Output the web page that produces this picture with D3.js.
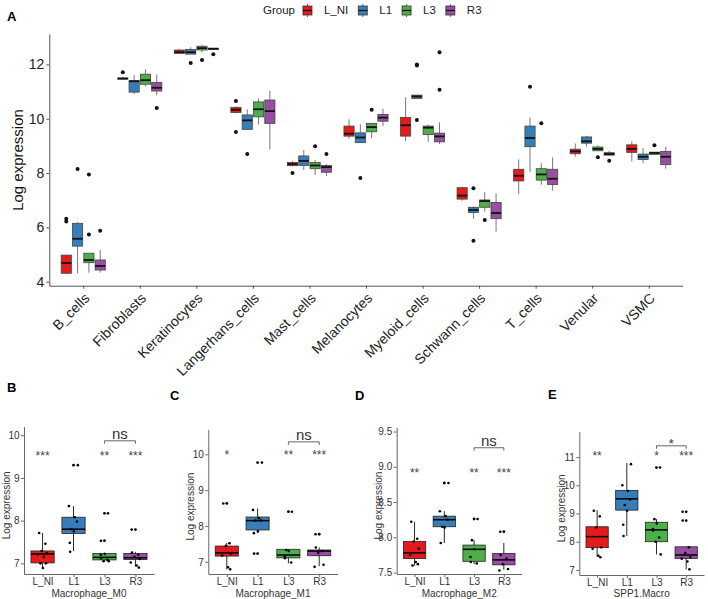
<!DOCTYPE html>
<html><head><meta charset="utf-8">
<script src="https://cdn.jsdelivr.net/npm/d3@7"></script>
<style>body{margin:0;background:#fff} svg{display:block} text{font-family:"Liberation Sans",Arial,sans-serif}</style>
</head><body><svg id="c" width="708" height="599"></svg>
<script>
// ---------------- DATA ----------------
const groups = ["L_NI", "L1", "L3", "R3"];
const cellTypes = ["B_cells","Fibroblasts","Keratinocytes","Langerhans_cells","Mast_cells","Melanocytes","Myeloid_cells","Schwann_cells","T_cells","Venular","VSMC"];
const ticksA = [4, 6, 8, 10, 12];
// [lower whisker, q1, median, q3, upper whisker] per cell type
const statsA_L_NI = [[4.31,4.31,4.69,4.98,4.98],[11.45,11.46,11.48,11.50,11.52],[12.40,12.41,12.45,12.53,12.57],[10.20,10.23,10.33,10.42,10.45],[8.25,8.27,8.33,8.39,8.45],[9.26,9.36,9.45,9.73,9.98],[9.18,9.36,9.76,10.05,10.79],[6.98,7.04,7.17,7.46,7.50],[7.22,7.71,7.90,8.14,8.50],[8.60,8.71,8.80,8.88,9.09],[8.43,8.76,8.89,9.04,9.17]];
const statsA_L1 = [[4.31,5.31,5.58,6.15,6.20],[10.91,10.98,11.38,11.40,11.61],[12.38,12.38,12.45,12.55,12.63],[9.61,9.61,9.94,10.14,10.35],[8.11,8.28,8.45,8.63,8.85],[9.12,9.12,9.31,9.48,9.80],[10.75,10.75,10.82,10.87,10.87],[6.32,6.55,6.64,6.74,6.76],[8.03,8.97,9.29,9.73,10.05],[8.97,9.10,9.17,9.33,9.37],[8.36,8.50,8.60,8.70,8.92]];
const statsA_L3 = [[4.33,4.70,4.80,5.05,5.05],[11.18,11.27,11.42,11.64,11.82],[12.44,12.53,12.60,12.67,12.71],[9.79,10.07,10.35,10.62,10.75],[7.93,8.16,8.28,8.39,8.48],[9.28,9.52,9.69,9.83,9.83],[9.15,9.42,9.67,9.73,9.78],[6.58,6.74,6.97,7.01,7.30],[7.57,7.74,7.95,8.16,8.36],[8.82,8.82,8.89,8.96,9.02],[8.69,8.69,8.74,8.77,8.77]];
const statsA_R3 = [[4.33,4.43,4.58,4.80,5.17],[10.87,11.02,11.14,11.34,11.63],[12.57,12.57,12.58,12.59,12.59],[8.87,9.83,10.28,10.69,11.03],[7.89,8.03,8.22,8.28,8.33],[9.73,9.91,10.04,10.16,10.37],[9.07,9.15,9.35,9.47,9.87],[5.85,6.32,6.53,6.92,7.25],[7.35,7.58,7.79,8.14,8.58],[8.66,8.66,8.70,8.75,8.82],[8.16,8.31,8.60,8.80,8.97]];
const outliersA_L_NI = [[6.32,6.22],[11.71],[],[10.65,9.51],[8.00],[],[],[],[],[],[]];
const outliersA_L1 = [[8.15],[],[12.05],[8.70],[],[7.82],[12.00,11.96,9.95],[7.44,5.51],[11.18],[],[]];
const outliersA_L3 = [[5.74,7.95],[],[12.16],[],[8.99],[10.33],[],[6.27],[9.83],[8.58],[9.02]];
const outliersA_R3 = [[5.88],[10.40],[12.37],[],[8.70],[],[12.45,11.07],[],[],[8.45],[]];

// Panel B: Macrophage_M0
const statsB = [[6.88,7.01,7.22,7.29,7.71],[7.29,7.70,7.80,8.08,8.34],[7.05,7.08,7.14,7.23,7.25],[6.92,7.09,7.13,7.23,7.27]];
const outliersB = [[],[9.30],[8.17,7.53],[7.79]];
const pointsB = [[7.71,7.46,7.29,7.24,7.20,7.15,7.00,7.00,6.89],[9.30,8.34,8.08,7.98,7.80,7.75,7.48,7.27],[8.17,7.53,7.22,7.20,7.12,7.08,7.05,7.05],[7.79,7.25,7.20,7.15,7.10,7.02,6.95,6.90]];
const sigB = ["***","","**","***"];
const ticksB = [7, 8, 9, 10];
// Panel C: Macrophage_M1
const statsC = [[6.79,7.16,7.25,7.44,7.53],[7.82,7.89,8.15,8.25,8.49],[6.96,7.11,7.19,7.35,7.35],[6.88,7.17,7.30,7.33,7.40]];
const outliersC = [[8.63],[9.77,7.23],[8.40],[7.77]];
const pointsC = [[8.63,7.52,7.45,7.22,7.18,6.85,6.79],[9.77,8.45,8.22,8.15,8.15,7.85,7.80,7.23],[8.40,7.33,7.30,7.15,7.10,6.98],[7.77,7.40,7.30,7.25,6.92,6.86]];
const sigC = ["*","","**","***"];
const ticksC = [7, 8, 9, 10];
// Panel D: Macrophage_M2
const statsD = [[7.60,7.70,7.78,7.94,8.22],[7.92,8.15,8.25,8.30,8.37],[7.62,7.66,7.83,7.89,7.96],[7.54,7.61,7.68,7.77,7.92]];
const outliersD = [[],[8.77],[8.26],[8.08]];
const pointsD = [[8.22,7.98,7.94,7.84,7.75,7.65,7.62,7.60],[8.77,8.37,8.30,8.25,8.15,8.14,7.92],[8.26,7.96,7.83,7.72,7.65,7.63],[8.08,7.75,7.70,7.62,7.55,7.53]];
const sigD = ["**","","**","***"];
const ticksD = [7.5, 8.0, 8.5, 9.0, 9.5];
// Panel E: SPP1.Macro
const statsE = [[7.47,7.79,8.18,8.53,9.12],[8.20,9.12,9.52,9.82,10.79],[7.55,8.00,8.42,8.69,8.80],[7.02,7.41,7.53,7.82,7.82]];
const outliersE = [[],[],[10.63],[9.06,8.75]];
const pointsE = [[9.10,8.90,8.50,7.80,7.75,7.50,7.45],[10.75,10.00,9.80,9.50,9.30,9.10,8.60,8.20],[10.63,8.80,8.65,8.45,8.40,8.15,8.00,7.55],[9.06,8.75,7.80,7.60,7.45,7.40,7.30,7.02]];
const sigE = ["**","","*","***"];
const ticksE = [7, 8, 9, 10, 11];

// ---------------- STYLE ----------------
const colors = ["#E41A1C", "#377EB8", "#4DAF4A", "#984EA3"];
const jitterPattern = [-0.55, 0.45, -0.15, 0.7, -0.75, 0.2, 0.55, -0.35, 0.05, -0.6];
const svg = d3.select("#c");
const font = '"Liberation Sans",Arial,sans-serif';

// ---------------- PANEL A ----------------
const statsA = [statsA_L_NI, statsA_L1, statsA_L3, statsA_R3];
const outliersA = [outliersA_L_NI, outliersA_L1, outliersA_L3, outliersA_R3];
const xA = d3.scalePoint().domain(cellTypes).range([49.3, 682.7]).padding(0.6);
const stepA = xA.step();
const yA = d3.scaleLinear().domain([3.853, 13.12]).range([285.7, 34]);
const gA = svg.append("g");

groups.forEach((grp, gi) => {
  const bw = 0.18 * stepA;
  cellTypes.forEach((ct, ci) => {
    const s = statsA[gi][ci];
    const cx = xA(ct) + (gi - 1.5) * 0.2 * stepA;
    const g = gA.append("g");
    g.append("line").attr("x1", cx).attr("x2", cx).attr("y1", yA(s[0])).attr("y2", yA(s[4]))
      .attr("stroke", "#555").attr("stroke-width", 0.8);
    g.append("rect").attr("x", cx - bw/2).attr("width", bw)
      .attr("y", yA(s[3])).attr("height", Math.max(1, yA(s[1]) - yA(s[3])))
      .attr("fill", colors[gi]).attr("stroke", "#444").attr("stroke-width", 0.8);
    g.append("line").attr("x1", cx - bw/2).attr("x2", cx + bw/2).attr("y1", yA(s[2])).attr("y2", yA(s[2]))
      .attr("stroke", "#111").attr("stroke-width", 1.8);
    outliersA[gi][ci].forEach(v => {
      g.append("circle").attr("cx", cx).attr("cy", yA(v)).attr("r", 2).attr("fill", "#111");
    });
  });
});

// axes A
const axAy = gA.append("g").attr("transform", "translate(49.3,0)")
  .call(d3.axisLeft(yA).tickValues(ticksA).tickSize(3).tickPadding(2).tickSizeOuter(0));
axAy.select(".domain").attr("stroke", "#555");
axAy.selectAll(".tick line").attr("stroke", "#555");
axAy.selectAll("text").attr("font-size", 14).attr("fill", "#222").attr("font-family", font);
const axAx = gA.append("g").attr("transform", "translate(0,285.7)")
  .call(d3.axisBottom(xA).tickSize(3).tickSizeOuter(0).tickFormat(""));
axAx.select(".domain").attr("stroke", "#555");
axAx.selectAll(".tick line").attr("stroke", "#555");
cellTypes.forEach(ct => {
  gA.append("text").attr("transform", `translate(${xA(ct)},292) rotate(-45)`)
    .attr("text-anchor", "end").attr("dy", "0.72em").attr("font-size", 14).attr("fill", "#222").text(ct);
});
gA.append("text").attr("transform", "translate(23,160) rotate(-90)").attr("text-anchor", "middle")
  .attr("font-size", 15).attr("fill", "#111").text("Log expression");
gA.append("text").attr("x", 7).attr("y", 21).attr("font-size", 13).attr("font-weight", "bold").text("A");

// legend
const leg = svg.append("g");
let lx = 263;
const gt = leg.append("text").attr("x", lx).attr("y", 14).attr("font-size", 11.5).attr("fill", "#222").text("Group");
lx += gt.node().getComputedTextLength() + 8;
groups.forEach((grp, gi) => {
  const kx = lx;
  leg.append("line").attr("x1", kx + 4.5).attr("x2", kx + 4.5).attr("y1", 4).attr("y2", 17).attr("stroke", "#444").attr("stroke-width", 0.8);
  leg.append("rect").attr("x", kx).attr("y", 6).attr("width", 9).attr("height", 9)
    .attr("fill", colors[gi]).attr("stroke", "#333").attr("stroke-width", 0.8);
  leg.append("line").attr("x1", kx).attr("x2", kx + 9).attr("y1", 10.5).attr("y2", 10.5).attr("stroke", "#111").attr("stroke-width", 1.2);
  const t = leg.append("text").attr("x", kx + 21).attr("y", 14).attr("font-size", 11.5).attr("fill", "#222").text(grp);
  lx = kx + 21 + t.node().getComputedTextLength() + 10;
});

// ---------------- LOWER PANELS ----------------
function drawPanel(cfg) {
  const g = svg.append("g");
  const x = d3.scalePoint().domain(groups).range([cfg.x0, cfg.x1]).padding(0.6);
  const step = x.step();
  const y = d3.scaleLinear().domain(cfg.yDomain).range([cfg.yBottom, cfg.yTop]);
  const bw = 0.75 * step;
  groups.forEach((grp, gi) => {
    const s = cfg.stats[gi];
    const cx = x(grp);
    g.append("line").attr("x1", cx).attr("x2", cx).attr("y1", y(s[0])).attr("y2", y(s[4]))
      .attr("stroke", "#111").attr("stroke-width", 0.9);
    g.append("rect").attr("x", cx - bw/2).attr("width", bw).attr("y", y(s[3])).attr("height", y(s[1]) - y(s[3]))
      .attr("fill", colors[gi]).attr("stroke", "#222").attr("stroke-width", 0.8);
    g.append("line").attr("x1", cx - bw/2).attr("x2", cx + bw/2).attr("y1", y(s[2])).attr("y2", y(s[2]))
      .attr("stroke", "#000").attr("stroke-width", 1.5);
    cfg.outliers[gi].forEach(v => g.append("circle").attr("cx", cx).attr("cy", y(v)).attr("r", 1.4).attr("fill", "#000"));
    cfg.points[gi].forEach((v, i) => {
      const off = jitterPattern[(i + gi * 3) % jitterPattern.length] * 0.2 * step;
      const isOut = cfg.outliers[gi].indexOf(v) >= 0;
      const dx = isOut ? (off >= 0 ? Math.max(off, 3.5) : Math.min(off, -3.5)) : off;
      g.append("circle").attr("cx", cx + dx).attr("cy", y(v)).attr("r", 1.3).attr("fill", "#000");
    });
    if (cfg.sig[gi]) {
      g.append("text").attr("x", cx).attr("y", y(cfg.sigY)).attr("dy", "0.6em").attr("text-anchor", "middle")
        .attr("font-size", 12).attr("fill", "#444").text(cfg.sig[gi]);
    }
  });
  // bracket L3 - R3
  const bx1 = x(groups[2]), bx2 = x(groups[3]), by = y(cfg.bracketY);
  g.append("path").attr("d", `M${bx1},${by + 3}V${by}H${bx2}V${by + 3}`)
    .attr("fill", "none").attr("stroke", "#555").attr("stroke-width", 0.9);
  g.append("text").attr("x", (bx1 + bx2) / 2).attr("y", by - (cfg.bracketLabel === "ns" ? 1.5 : 6))
    .attr("dy", cfg.bracketLabel === "ns" ? 0 : "0.6em")
    .attr("text-anchor", "middle").attr("font-size", cfg.bracketLabel === "ns" ? 15 : 13).attr("fill", "#333").text(cfg.bracketLabel);
  // axes
  const ay = g.append("g").attr("transform", `translate(${cfg.x0},0)`)
    .call(d3.axisLeft(y).tickValues(cfg.ticks).tickFormat(d3.format(cfg.fmt)).tickSize(3).tickPadding(1.5).tickSizeOuter(0));
  ay.select(".domain").attr("stroke", "#666");
  ay.selectAll(".tick line").attr("stroke", "#666");
  ay.selectAll("text").attr("font-size", 10).attr("fill", "#333").attr("font-family", font);
  const ax = g.append("g").attr("transform", `translate(0,${cfg.yBottom})`)
    .call(d3.axisBottom(x).tickSize(3).tickPadding(0.5).tickSizeOuter(0));
  ax.select(".domain").attr("stroke", "#666");
  ax.selectAll(".tick line").attr("stroke", "#666");
  ax.selectAll("text").attr("font-size", 10).attr("fill", "#333").attr("font-family", font);
  g.append("text").attr("x", (cfg.x0 + cfg.x1) / 2).attr("y", 597).attr("text-anchor", "middle")
    .attr("font-size", 10).attr("fill", "#333").text(cfg.title);
  g.append("text").attr("transform", `translate(${cfg.x0 - 14.5},${(cfg.yBottom + cfg.yTop) / 2 + 5}) rotate(-90)`)
    .attr("text-anchor", "middle").attr("font-size", 10).attr("fill", "#333").text("Log expression");
  g.append("text").attr("x", cfg.lx).attr("y", cfg.ly).attr("font-size", 13).attr("font-weight", "bold").text(cfg.letter);
}

drawPanel({letter: "B", lx: 7, ly: 392, x0: 24, x1: 154, yDomain: [6.75, 10.2], yBottom: 574, yTop: 426.7,
  ticks: ticksB, fmt: "d", stats: statsB, outliers: outliersB, points: pointsB, sig: sigB, sigY: 9.6,
  bracketY: 9.87, bracketLabel: "ns", title: "Macrophage_M0"});
drawPanel({letter: "C", lx: 170, ly: 400, x0: 208.3, x1: 337.7, yDomain: [6.66, 10.7], yBottom: 574, yTop: 429.3,
  ticks: ticksC, fmt: "d", stats: statsC, outliers: outliersC, points: pointsC, sig: sigC, sigY: 10.07,
  bracketY: 10.35, bracketLabel: "ns", title: "Macrophage_M1"});
drawPanel({letter: "D", lx: 355, ly: 400, x0: 396.7, x1: 521.7, yDomain: [7.48, 9.56], yBottom: 574, yTop: 427.3,
  ticks: ticksD, fmt: ".1f", stats: statsD, outliers: outliersD, points: pointsD, sig: sigD, sigY: 8.96,
  bracketY: 9.27, bracketLabel: "ns", title: "Macrophage_M2"});
drawPanel({letter: "E", lx: 548, ly: 399, x0: 579.3, x1: 704, yDomain: [6.82, 11.9], yBottom: 575, yTop: 431.7,
  ticks: ticksE, fmt: "d", stats: statsE, outliers: outliersE, points: pointsE, sig: sigE, sigY: 11.14,
  bracketY: 11.4, bracketLabel: "*", title: "SPP1.Macro"});
</script></body></html>
